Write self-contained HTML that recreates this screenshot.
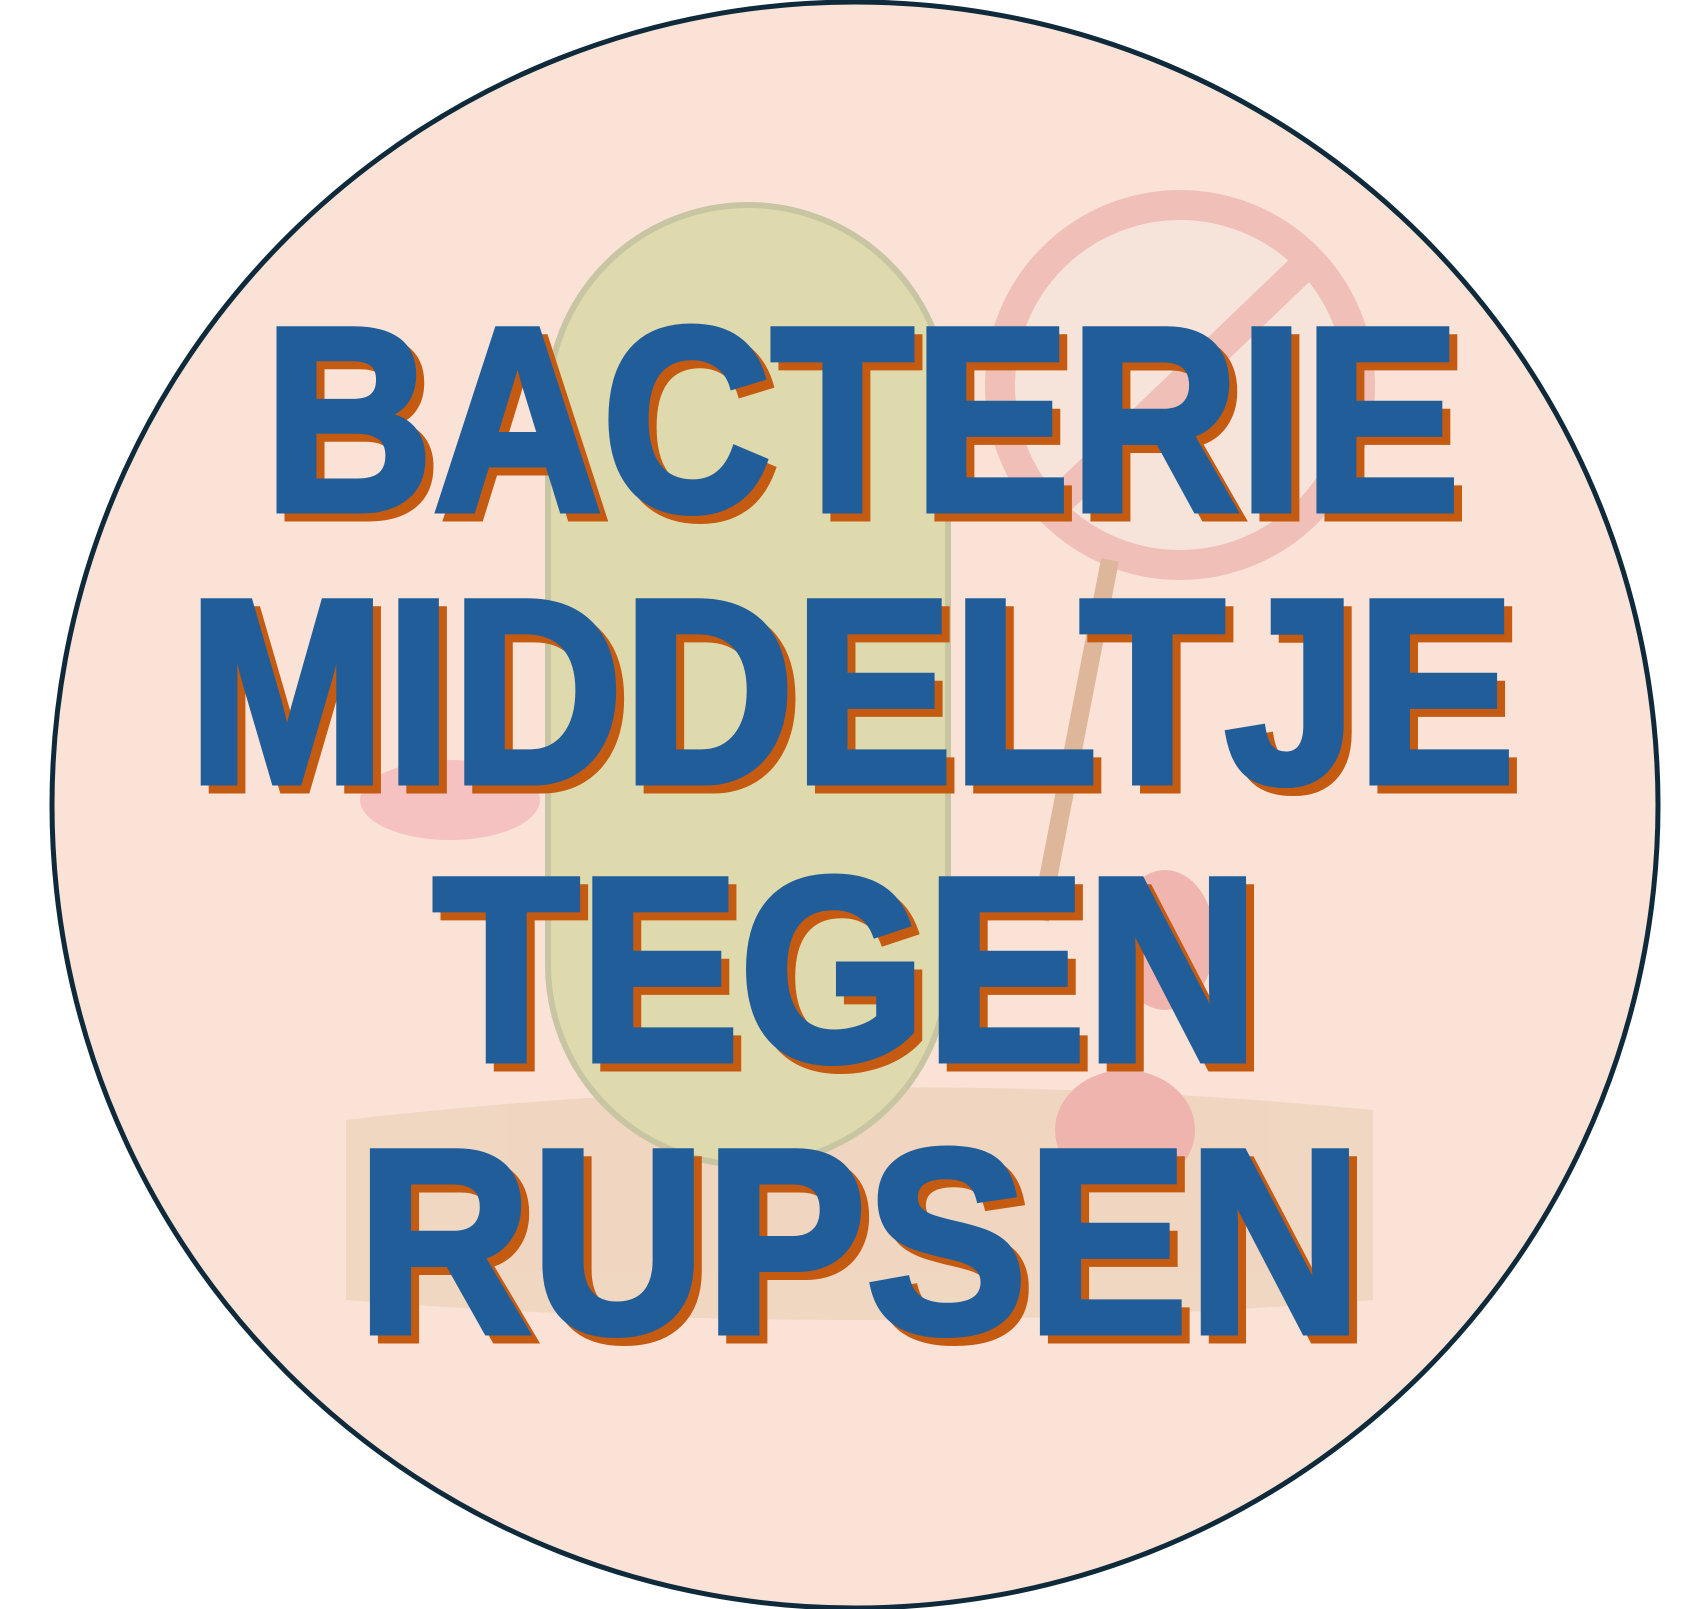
<!DOCTYPE html>
<html><head><meta charset="utf-8"><style>
html,body{margin:0;padding:0;background:#fff;width:1706px;height:1609px;overflow:hidden}
svg{display:block}
text{font-family:"Liberation Sans",sans-serif;font-weight:bold;font-size:262px;stroke-width:7;stroke-linejoin:miter}
</style></head><body>
<svg width="1706" height="1609" viewBox="0 0 1706 1609">
<circle cx="855" cy="805" r="803" fill="#fae2d6" stroke="#0f2a3a" stroke-width="5"/>
<g opacity="0.55">
<path d="M346 1120 Q860 1060 1373 1110 L1373 1300 Q860 1340 346 1300 Z" fill="#e8cdb0"/>
<rect x="548" y="205" width="400" height="960" rx="200" fill="#c9d48e" stroke="#9fae78" stroke-width="6"/>
<circle cx="1180" cy="385" r="180" fill="#f4e6de" stroke="#e8a4a0" stroke-width="30"/>
<line x1="1060" y1="500" x2="1300" y2="270" stroke="#e8a4a0" stroke-width="30"/>
<line x1="1110" y1="560" x2="1040" y2="920" stroke="#c8956a" stroke-width="18"/>
<ellipse cx="1165" cy="940" rx="50" ry="70" fill="#e89090"/>
<ellipse cx="1125" cy="1130" rx="70" ry="60" fill="#e89090"/>
<ellipse cx="450" cy="800" rx="90" ry="40" fill="#f0a8b0"/>
</g>
<g>
<g fill="#c55a11" stroke="#c55a11" transform="translate(8,8)">
<text x="264" y="510" textLength="1196" lengthAdjust="spacingAndGlyphs">BACTERIE</text>
<text x="188" y="782" textLength="1327" lengthAdjust="spacingAndGlyphs">MIDDELTJE</text>
<text x="433" y="1060" textLength="826" lengthAdjust="spacingAndGlyphs">TEGEN</text>
<text x="357" y="1332" textLength="1005" lengthAdjust="spacingAndGlyphs">RUPSEN</text>
</g>
<g fill="#215e99" stroke="#215e99">
<text x="264" y="510" textLength="1196" lengthAdjust="spacingAndGlyphs">BACTERIE</text>
<text x="188" y="782" textLength="1327" lengthAdjust="spacingAndGlyphs">MIDDELTJE</text>
<text x="433" y="1060" textLength="826" lengthAdjust="spacingAndGlyphs">TEGEN</text>
<text x="357" y="1332" textLength="1005" lengthAdjust="spacingAndGlyphs">RUPSEN</text>
</g>
</g>
</svg>
</body></html>
